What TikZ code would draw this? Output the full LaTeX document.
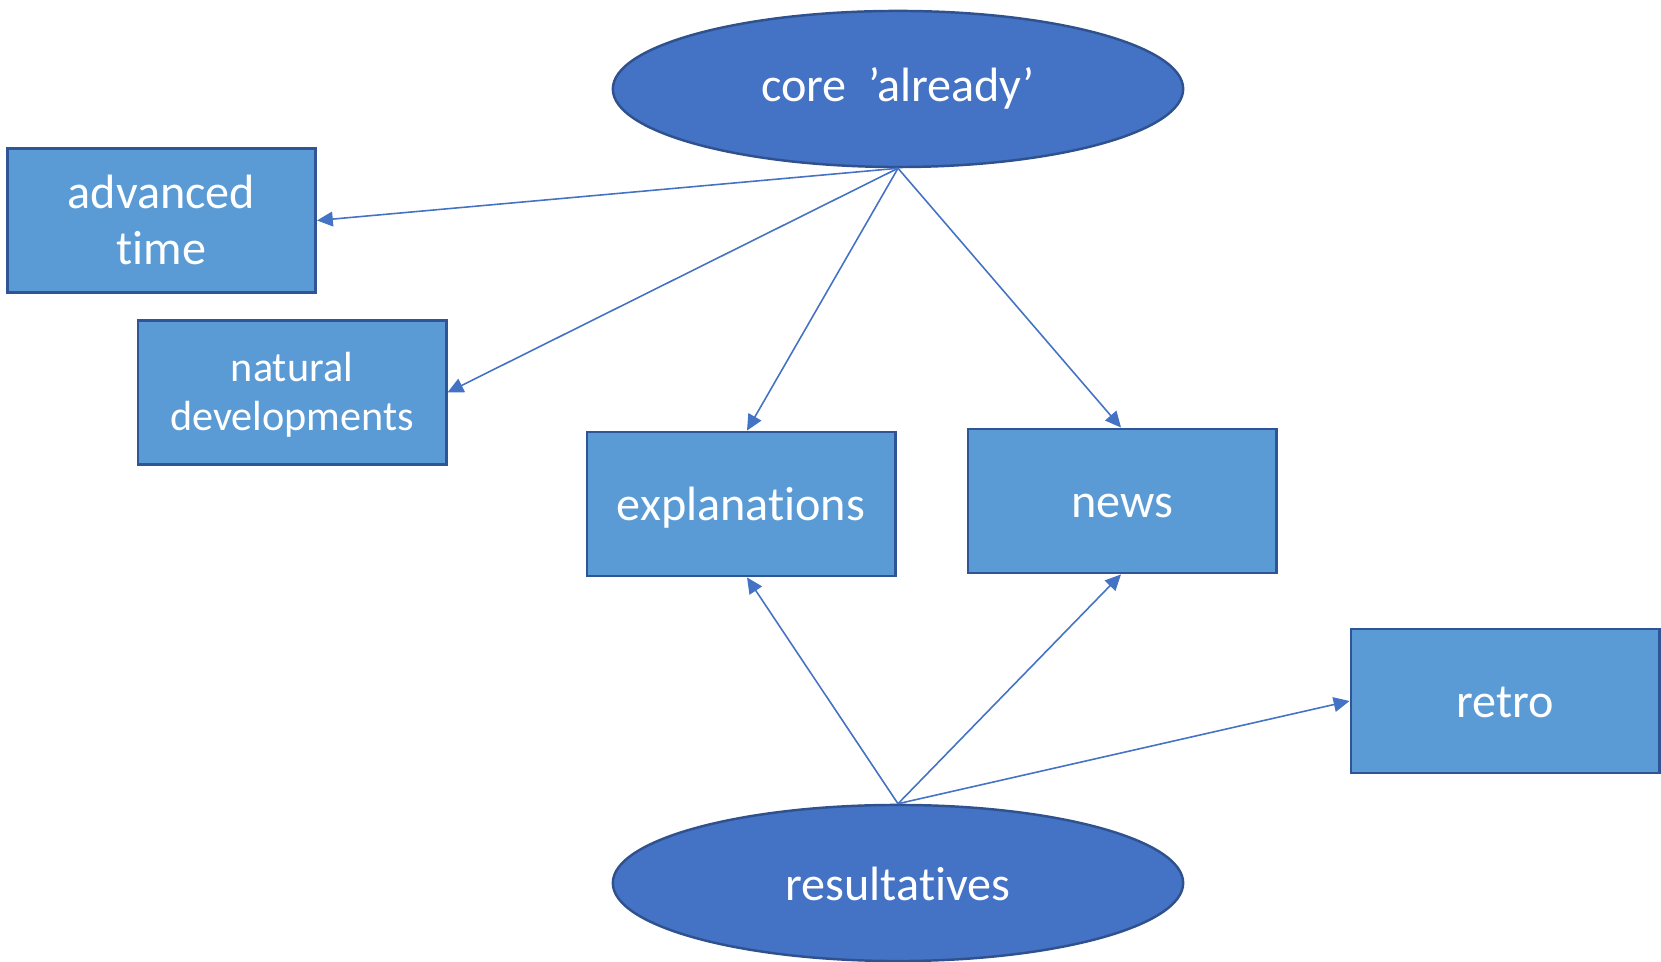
\documentclass[tikz,border=0pt]{standalone}
\usepackage{fontspec}
\setmainfont{Carlito}[Ligatures=CommonOff]
\usetikzlibrary{shapes.geometric,arrows.meta}
\definecolor{ellfill}{HTML}{4472C4}
\definecolor{ellline}{HTML}{2F528F}
\definecolor{boxfill}{HTML}{5B9BD5}
\definecolor{boxline}{HTML}{2F5597}
\definecolor{arrowc}{HTML}{4472C4}
\begin{document}
\begin{tikzpicture}[x=0.01cm,y=-0.01cm,
  ell/.style={ellipse,draw=ellline,fill=ellfill,line width=0.7pt,minimum width=5.7cm,minimum height=1.56cm,inner sep=0pt,text=white,font=\fontsize{13.7}{16}\selectfont,text depth=3pt},
  bx/.style={rectangle,draw=boxline,fill=boxfill,line width=0.8pt,minimum width=3.08cm,minimum height=1.44cm,inner sep=0pt,text=white,align=center,font=\fontsize{13.7}{16}\selectfont,text height=12.2pt,text depth=3pt},
  conn/.style={draw=arrowc,line width=0.45pt,-{Triangle[length=4.5pt,width=4.2pt]}}]
\useasboundingbox (0,0) rectangle (1661,962);
\node[ell,text height=10.4pt] (core) at (898,89) {core\ \ ’already’};
\node[ell,text height=13.2pt] (res) at (898,883) {resultatives};
\node[bx,text height=27.9pt] (adv) at (161.5,220.5) {advanced\\time};
\node[bx,font=\fontsize{12}{14.2}\selectfont,text height=24.9pt] (nat) at (292,392.5) {natural\\developments};
\node[bx] (expl) at (741,504) {explanations};
\node[bx] (news) at (1122,501) {news};
\node[bx] (retro) at (1505,701) {retro};
\draw[conn] (core.south) -- (adv.east);
\draw[conn] (core.south) -- (nat.east);
\draw[conn] (core.south) -- ([xshift=0.06cm]expl.north);
\draw[conn] (core.south) -- ([xshift=-0.01cm]news.north);
\draw[conn] (res.north) -- ([xshift=0.06cm]expl.south);
\draw[conn] (res.north) -- ([xshift=-0.01cm]news.south);
\draw[conn] (res.north) -- (retro.west);
\end{tikzpicture}
\end{document}
